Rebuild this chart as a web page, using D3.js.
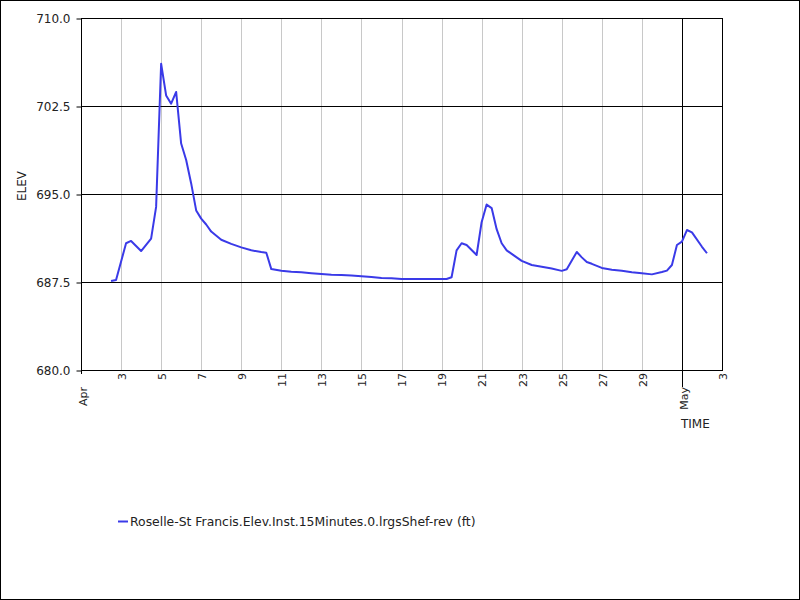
<!DOCTYPE html>
<html>
<head>
<meta charset="utf-8">
<script src="https://cdn.jsdelivr.net/npm/d3@7"></script>
<style>
  html, body { margin: 0; padding: 0; background: #fff; }
  svg { display: block; }
  text { font-family: "DejaVu Sans", sans-serif; fill: #222; }
</style>
</head>
<body>
<svg id="chart" width="800" height="600"></svg>
<script>
// ---- data ----
const seriesName = "Roselle-St Francis.Elev.Inst.15Minutes.0.lrgsShef-rev (ft)";
const times = [
  "2023-04-02T12:00", "2023-04-02T18:00", "2023-04-03T06:00", "2023-04-03T12:00",
  "2023-04-04T00:00", "2023-04-04T12:00", "2023-04-04T18:00", "2023-04-05T00:00",
  "2023-04-05T06:00", "2023-04-05T12:00", "2023-04-05T18:00", "2023-04-06T00:00",
  "2023-04-06T06:00", "2023-04-06T12:00", "2023-04-06T18:00", "2023-04-07T00:00",
  "2023-04-07T06:00", "2023-04-07T12:00", "2023-04-08T00:00", "2023-04-08T12:00",
  "2023-04-09T00:00", "2023-04-09T12:00", "2023-04-10T00:00", "2023-04-10T06:00",
  "2023-04-10T12:00", "2023-04-11T00:00", "2023-04-11T12:00", "2023-04-12T00:00",
  "2023-04-12T12:00", "2023-04-13T00:00", "2023-04-13T12:00", "2023-04-14T00:00",
  "2023-04-14T12:00", "2023-04-15T00:00", "2023-04-15T12:00", "2023-04-16T00:00",
  "2023-04-16T12:00", "2023-04-17T00:00", "2023-04-18T00:00", "2023-04-19T00:00",
  "2023-04-19T06:00", "2023-04-19T12:00", "2023-04-19T18:00", "2023-04-20T00:00",
  "2023-04-20T06:00", "2023-04-20T18:00", "2023-04-21T00:00", "2023-04-21T06:00",
  "2023-04-21T12:00", "2023-04-21T18:00", "2023-04-22T00:00", "2023-04-22T06:00",
  "2023-04-22T12:00", "2023-04-23T00:00", "2023-04-23T12:00", "2023-04-24T00:00",
  "2023-04-24T12:00", "2023-04-25T00:00", "2023-04-25T06:00", "2023-04-25T18:00",
  "2023-04-26T00:00", "2023-04-26T06:00", "2023-04-26T12:00", "2023-04-27T00:00",
  "2023-04-27T12:00", "2023-04-28T00:00", "2023-04-28T12:00", "2023-04-29T00:00",
  "2023-04-29T12:00", "2023-04-30T00:00", "2023-04-30T06:00", "2023-04-30T12:00",
  "2023-04-30T18:00", "2023-05-01T00:00", "2023-05-01T06:00", "2023-05-01T12:00",
  "2023-05-02T00:00", "2023-05-02T06:00"
];
const elev = [
  687.58, 687.67, 690.8, 691.0,
  690.14, 691.2, 693.9, 706.1,
  703.4, 702.7, 703.7, 699.3,
  697.9, 695.9, 693.6, 692.9,
  692.4, 691.8, 691.1, 690.75,
  690.45, 690.2, 690.05, 690.0,
  688.6, 688.45, 688.38, 688.33,
  688.25, 688.18, 688.12, 688.1,
  688.05, 688.0, 687.93, 687.85,
  687.82, 687.75, 687.75, 687.75,
  687.75, 687.9, 690.2, 690.8,
  690.65, 689.8, 692.6, 694.1,
  693.8, 692.0, 690.8, 690.2,
  689.9, 689.3, 688.95, 688.8,
  688.65, 688.45, 688.58, 690.06,
  689.6, 689.2, 689.05, 688.7,
  688.55, 688.45, 688.33, 688.25,
  688.15, 688.35, 688.47, 688.95,
  690.65, 690.94, 691.93, 691.73,
  690.5, 689.95
];
const yTicks = [680.0, 687.5, 695.0, 702.5, 710.0];
const dayTicks = ["2023-04-03", "2023-04-05", "2023-04-07", "2023-04-09", "2023-04-11",
  "2023-04-13", "2023-04-15", "2023-04-17", "2023-04-19", "2023-04-21", "2023-04-23",
  "2023-04-25", "2023-04-27", "2023-04-29", "2023-05-03"];
const monthTicks = ["2023-04-01", "2023-05-01"];
const xDomain = ["2023-04-01", "2023-05-03"];
const yDomain = [680, 710];
const yLabel = "ELEV";
const xLabel = "TIME";

// ---- layout ----
const parse = d3.isoParse;
const L = 81, R = 722, T = 18, B = 370;
const svg = d3.select("#chart");

svg.append("rect").attr("x", 0.5).attr("y", 0.5).attr("width", 799).attr("height", 599)
  .attr("fill", "#fff").attr("stroke", "#000");

const x = d3.scaleTime().domain(xDomain.map(s => parse(s + "T00:00"))).range([L, R]);
const y = d3.scaleLinear().domain(yDomain).range([B, T]);

// vertical grid (days)
svg.append("g").selectAll("line").data(dayTicks.map(s => parse(s + "T00:00")))
  .join("line")
  .attr("x1", d => Math.round(x(d)) + 0.5).attr("x2", d => Math.round(x(d)) + 0.5)
  .attr("y1", T).attr("y2", B)
  .attr("stroke", "#c8c8c8").attr("stroke-width", 1);

// month grid
svg.append("g").selectAll("line").data(monthTicks.slice(1).map(s => parse(s + "T00:00")))
  .join("line")
  .attr("x1", d => Math.round(x(d)) + 0.5).attr("x2", d => Math.round(x(d)) + 0.5)
  .attr("y1", T).attr("y2", B + 17)
  .attr("stroke", "#000").attr("stroke-width", 1);

// horizontal grid
svg.append("g").selectAll("line").data(yTicks)
  .join("line")
  .attr("x1", L).attr("x2", R)
  .attr("y1", d => Math.round(y(d)) + 0.5).attr("y2", d => Math.round(y(d)) + 0.5)
  .attr("stroke", "#000").attr("stroke-width", 1);

// border
svg.append("rect").attr("x", L + 0.5).attr("y", T + 0.5)
  .attr("width", R - L).attr("height", B - T)
  .attr("fill", "none").attr("stroke", "#000");

// y axis
const yAxis = d3.axisLeft(y).tickValues(yTicks).tickFormat(d3.format(".1f"))
  .tickSize(5).tickPadding(6);
const gy = svg.append("g").attr("transform", `translate(${L + 0.5},0.5)`).call(yAxis);
gy.select(".domain").remove();
gy.selectAll("line").attr("stroke", "#000");
gy.selectAll("text").attr("font-size", 12).attr("fill", "#222")
  .style("font-family", "DejaVu Sans, sans-serif");

// x axis days
const xAxis = d3.axisBottom(x).tickValues(dayTicks.map(s => parse(s + "T00:00")))
  .tickFormat(d3.timeFormat("%-d")).tickSize(0).tickPadding(0);
const gx = svg.append("g").attr("transform", `translate(0.5,${B})`).call(xAxis);
gx.select(".domain").remove();
gx.selectAll("text")
  .attr("transform", "rotate(-90)")
  .attr("x", -3).attr("y", 0).attr("dy", "0.35em")
  .attr("text-anchor", "end")
  .attr("font-size", 11).style("font-family", "DejaVu Sans, sans-serif").attr("fill", "#222");

// month labels
const gm = svg.append("g");
gm.selectAll("line.mt").data(monthTicks.slice(0, 1).map(s => parse(s + "T00:00")))
  .join("line")
  .attr("x1", d => Math.round(x(d)) + 0.5).attr("x2", d => Math.round(x(d)) + 0.5)
  .attr("y1", B).attr("y2", B + 4).attr("stroke", "#000");
gm.selectAll("text").data(monthTicks.map(s => parse(s + "T00:00")))
  .join("text")
  .attr("transform", d => `translate(${Math.round(x(d)) + 2},${B + 17}) rotate(-90)`)
  .attr("text-anchor", "end").attr("dy", "0.35em")
  .attr("font-size", 11).text(d3.timeFormat("%b"));

// axis titles
svg.append("text").attr("transform", `translate(26,186) rotate(-90)`)
  .attr("text-anchor", "middle").attr("font-size", 12).text(yLabel);
svg.append("text").attr("x", 681).attr("y", 428)
  .attr("font-size", 12).text(xLabel);

// line
const data = times.map((t, i) => ({ t: parse(t), v: elev[i] }));
svg.append("path").datum(data)
  .attr("fill", "none").attr("stroke", "#3a3ae8").attr("stroke-width", 2)
  .attr("stroke-linejoin", "round")
  .attr("d", d3.line().x(d => x(d.t)).y(d => y(d.v)));

// legend
const lg = svg.append("g").attr("transform", "translate(118,521)");
lg.append("line").attr("x1", 0).attr("x2", 10).attr("y1", 0.5).attr("y2", 0.5)
  .attr("stroke", "#3a3ae8").attr("stroke-width", 2);
lg.append("text").attr("x", 12).attr("y", 0.5).attr("dy", "0.35em")
  .attr("font-size", 12.4).text(seriesName);
</script>
</body>
</html>
